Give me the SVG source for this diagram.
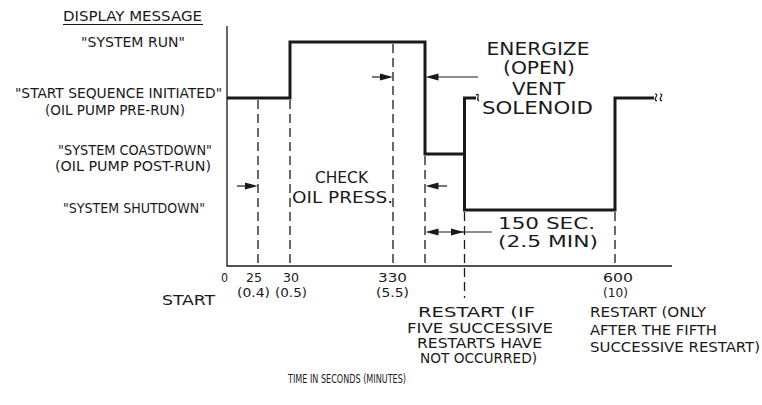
<svg xmlns="http://www.w3.org/2000/svg" width="762" height="405" viewBox="0 0 762 405">
<defs>
<style>
text{font-family:"Liberation Sans Narrow","DejaVu Sans Condensed","Liberation Sans",Arial,sans-serif;fill:#1a1a1a}
.l{font-size:14px}
.t{font-size:14px}
.n{font-size:13px}
.big{font-size:17px;text-anchor:middle}
.axis{stroke:#1a1a1a;stroke-width:1.3;fill:none}
.sig{stroke:#1a1a1a;stroke-width:3;fill:none;stroke-linejoin:miter}
.dash{stroke:#1a1a1a;stroke-width:1.3;stroke-dasharray:9 5;fill:none}
.thin{stroke:#1a1a1a;stroke-width:1.2;fill:none}
.ah{fill:#1a1a1a}
</style>
</defs>
<rect width="762" height="405" fill="#fff"/>
<g id="labels-left">
<text class="l" x="63" y="21" textLength="139" lengthAdjust="spacingAndGlyphs">DISPLAY MESSAGE</text>
<line class="thin" x1="63" y1="24.5" x2="203" y2="24.5"/>
<text class="l" x="81" y="47" textLength="104" lengthAdjust="spacingAndGlyphs">"SYSTEM RUN"</text>
<text class="l" x="15" y="98" textLength="207" lengthAdjust="spacingAndGlyphs">"START SEQUENCE INITIATED"</text>
<text class="l" x="45" y="115" textLength="140" lengthAdjust="spacingAndGlyphs">(OIL PUMP PRE-RUN)</text>
<text class="l" x="58" y="155" textLength="154" lengthAdjust="spacingAndGlyphs">"SYSTEM COASTDOWN"</text>
<text class="l" x="55" y="171" textLength="156" lengthAdjust="spacingAndGlyphs">(OIL PUMP POST-RUN)</text>
<text class="l" x="63" y="213" textLength="142" lengthAdjust="spacingAndGlyphs">"SYSTEM SHUTDOWN"</text>
</g>
<g id="axes">
<polyline class="axis" points="227,26 227,266 672,266"/>
</g>
<g id="dashed-lines">
<line class="dash" x1="258" y1="100" x2="258" y2="266"/>
<line class="dash" x1="290" y1="100" x2="290" y2="266"/>
<line class="dash" x1="393" y1="44" x2="393" y2="266"/>
<line class="dash" x1="425" y1="156" x2="425" y2="266"/>
<line class="dash" x1="464.5" y1="212" x2="464.5" y2="298"/>
<line class="dash" x1="615" y1="212" x2="615" y2="268"/>
</g>
<g id="signal">
<polyline class="sig" points="227,98 290,98 290,42 425,42 425,154 464.5,154 464.5,210 615,210 615,98 654,98"/>
<polyline class="sig" points="464.5,154 464.5,98 476,98"/>
<path class="thin" d="M476,95 q3,-2 2,2 q-1,3 1,4" stroke-width="1.4"/>
<path class="thin" d="M655,94 q3,0 1,3 q-2,3 1,4 M660,94 q3,0 1,3 q-2,3 1,4" stroke-width="1.4"/>
</g>
<g id="connectors">
<line class="thin" x1="372" y1="77" x2="382" y2="77"/>
<polygon class="ah" points="393,77 380,73.5 380,80.5"/>
<line class="thin" x1="437" y1="77" x2="478" y2="77"/>
<polygon class="ah" points="425.5,77 438.5,73.5 438.5,80.5"/>
<line class="thin" x1="237" y1="186" x2="247" y2="186"/>
<polygon class="ah" points="258,186 245,182.5 245,189.5"/>
<line class="thin" x1="437" y1="186" x2="447" y2="186"/>
<polygon class="ah" points="425.5,186 438.5,182.5 438.5,189.5"/>
<polygon class="ah" points="425.5,232 438.5,228.5 438.5,235.5"/>
<line class="thin" x1="438" y1="232" x2="492" y2="232"/>
<polygon class="ah" points="464,232 451,228.5 451,235.5"/>
</g>
<g id="annotations">
<text class="big" x="538" y="55" textLength="103" lengthAdjust="spacingAndGlyphs">ENERGIZE</text>
<text class="big" x="539" y="74" textLength="72" lengthAdjust="spacingAndGlyphs">(OPEN)</text>
<text class="big" x="538.5" y="95" textLength="53" lengthAdjust="spacingAndGlyphs">VENT</text>
<text class="big" x="537.5" y="113.5" textLength="111" lengthAdjust="spacingAndGlyphs">SOLENOID</text>
<text x="315" y="183" textLength="53" lengthAdjust="spacingAndGlyphs" style="font-size:15px">CHECK</text>
<text x="292" y="203" textLength="101" lengthAdjust="spacingAndGlyphs" style="font-size:15px">OIL PRESS.</text>
<text x="498" y="228.5" textLength="97" lengthAdjust="spacingAndGlyphs" style="font-size:16px">150 SEC.</text>
<text x="498" y="246.5" textLength="100" lengthAdjust="spacingAndGlyphs" style="font-size:16px">(2.5 MIN)</text>
</g>
<g id="time-labels">
<text class="n" x="221" y="282" textLength="7" lengthAdjust="spacingAndGlyphs">0</text>
<text class="n" x="246" y="282" textLength="16" lengthAdjust="spacingAndGlyphs">25</text>
<text class="n" x="283" y="282" textLength="16" lengthAdjust="spacingAndGlyphs">30</text>
<text class="n" x="237" y="297" textLength="33" lengthAdjust="spacingAndGlyphs">(0.4)</text>
<text class="n" x="275" y="297" textLength="32" lengthAdjust="spacingAndGlyphs">(0.5)</text>
<text class="t" x="162" y="305" textLength="53" lengthAdjust="spacingAndGlyphs">START</text>
<text class="n" x="378" y="282" textLength="29" lengthAdjust="spacingAndGlyphs">330</text>
<text class="n" x="376" y="297" textLength="33" lengthAdjust="spacingAndGlyphs">(5.5)</text>
<text class="n" x="603" y="282" textLength="30" lengthAdjust="spacingAndGlyphs">600</text>
<text class="n" x="603" y="297" textLength="25" lengthAdjust="spacingAndGlyphs">(10)</text>
<text class="t" x="418" y="317" textLength="117" lengthAdjust="spacingAndGlyphs">RESTART (IF</text>
<text class="t" x="407" y="333" textLength="146" lengthAdjust="spacingAndGlyphs">FIVE SUCCESSIVE</text>
<text class="t" x="417" y="348" textLength="125" lengthAdjust="spacingAndGlyphs">RESTARTS HAVE</text>
<text class="t" x="420" y="363" textLength="117" lengthAdjust="spacingAndGlyphs">NOT OCCURRED)</text>
<text class="l" x="590" y="317" textLength="116" lengthAdjust="spacingAndGlyphs">RESTART (ONLY</text>
<text class="l" x="590" y="335" textLength="127" lengthAdjust="spacingAndGlyphs">AFTER THE FIFTH</text>
<text class="l" x="590" y="352" textLength="170" lengthAdjust="spacingAndGlyphs">SUCCESSIVE RESTART)</text>
<text style="font-size:12px" x="288" y="383" textLength="118" lengthAdjust="spacingAndGlyphs">TIME IN SECONDS (MINUTES)</text>
</g>
</svg>
